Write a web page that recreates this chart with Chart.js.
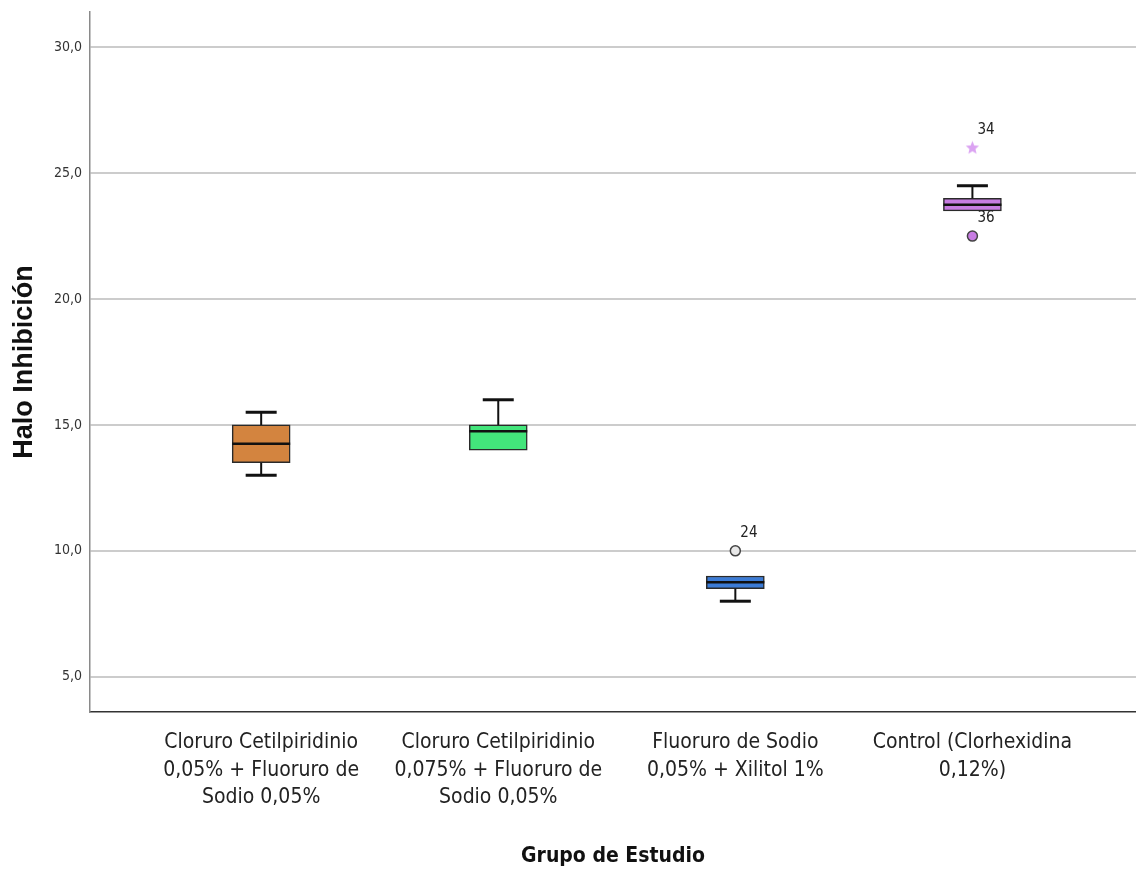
<!DOCTYPE html>
<html>
<head>
<meta charset="utf-8">
<script src="https://cdn.jsdelivr.net/npm/chart.js@4/dist/chart.umd.min.js"></script>
<style>
  html, body { margin: 0; padding: 0; background: #ffffff; }
  #wrap { width: 1136px; height: 869px; }
</style>
</head>
<body>
<div id="wrap"><canvas id="c" width="1136" height="869"></canvas></div>
<script>
// Groups on the x axis
const categories = [
  ['Cloruro Cetilpiridinio', '0,05% + Fluoruro de', 'Sodio 0,05%'],
  ['Cloruro Cetilpiridinio', '0,075% + Fluoruro de', 'Sodio 0,05%'],
  ['Fluoruro de Sodio', '0,05% + Xilitol 1%'],
  ['Control (Clorhexidina', '0,12%)']
];
// Five-number summaries per group
const whiskerLow  = [13.0, 14.0, 8.0, 23.5];
const q1          = [13.5, 14.0, 8.5, 23.5];
const median      = [14.25, 14.75, 8.75, 23.75];
const q3          = [15.0, 15.0, 9.0, 24.0];
const whiskerHigh = [15.5, 16.0, 9.0, 24.5];
const boxColors   = ['#d3843f', '#43e57b', '#3b7bd6', '#c77ce2'];

// Outlying cases: group index, value, case id, marker kind
const outlierGroup = [2, 3, 3];
const outlierValue = [10.0, 26.0, 22.5];
const outlierCase  = ['24', '34', '36'];
const outlierKind  = ['circle', 'star', 'circle'];

const yTicks = [5, 10, 15, 20, 25, 30];

const narrow = "'Liberation Sans Narrow', 'Arial Narrow', 'DejaVu Sans Condensed', sans-serif";

// Five-pointed star marker for extreme cases
function makeStar(size, fill) {
  const cv = document.createElement('canvas');
  cv.width = size; cv.height = size;
  const g = cv.getContext('2d');
  const c = size / 2, ro = size / 2 - 0.5, ri = ro * 0.45;
  g.beginPath();
  for (let k = 0; k < 10; k++) {
    const r = k % 2 === 0 ? ro : ri;
    const a = -Math.PI / 2 + k * Math.PI / 5;
    const px = c + r * Math.cos(a), py = c + r * Math.sin(a);
    if (k === 0) g.moveTo(px, py); else g.lineTo(px, py);
  }
  g.closePath();
  g.fillStyle = fill;
  g.fill();
  return cv;
}
const starMarker = makeStar(15, '#dba3f2');

// Whiskers, caps and median lines drawn over the floating boxes
const boxLines = {
  id: 'boxLines',
  afterDatasetsDraw(chart) {
    const ctx = chart.ctx, xs = chart.scales.x, ys = chart.scales.y;
    ctx.save();
    ctx.strokeStyle = '#111111';
    ctx.lineCap = 'butt';
    for (let i = 0; i < categories.length; i++) {
      const cx = xs.getPixelForValue(i + 1);
      const half = 29, cap = 15.5;
      const yLo = ys.getPixelForValue(whiskerLow[i]);
      const yQ1 = ys.getPixelForValue(q1[i]);
      const yQ3 = ys.getPixelForValue(q3[i]);
      const yHi = ys.getPixelForValue(whiskerHigh[i]);
      const yMd = ys.getPixelForValue(median[i]);
      ctx.lineWidth = 2;
      ctx.beginPath();
      if (yHi < yQ3) { ctx.moveTo(cx, yQ3); ctx.lineTo(cx, yHi); }
      if (yLo > yQ1) { ctx.moveTo(cx, yQ1); ctx.lineTo(cx, yLo); }
      ctx.stroke();
      ctx.lineWidth = 3;
      ctx.beginPath();
      if (yHi < yQ3 - 0.5) { ctx.moveTo(cx - cap, yHi); ctx.lineTo(cx + cap, yHi); }
      if (yLo > yQ1 + 0.5) { ctx.moveTo(cx - cap, yLo); ctx.lineTo(cx + cap, yLo); }
      ctx.stroke();
      ctx.lineWidth = 2.5;
      ctx.beginPath();
      ctx.moveTo(cx - half, yMd); ctx.lineTo(cx + half, yMd);
      ctx.stroke();
    }
    // case labels next to outliers
    ctx.fillStyle = '#222222';
    ctx.font = "15px " + narrow;
    ctx.textAlign = 'left';
    ctx.textBaseline = 'middle';
    for (let k = 0; k < outlierValue.length; k++) {
      const px = xs.getPixelForValue(outlierGroup[k] + 1);
      const py = ys.getPixelForValue(outlierValue[k]);
      ctx.fillText(outlierCase[k], px + 5, py - 18);
    }
    ctx.restore();
  }
};

const outlierPoints = outlierValue.map((v, k) => ({ x: outlierGroup[k] + 1, y: v }));
const outlierFill = outlierCase.map((c, k) => outlierGroup[k] === 3 ? '#c77ce2' : '#e8e8e8');

new Chart(document.getElementById('c'), {
  type: 'bar',
  data: {
    datasets: [
      {
        type: 'scatter',
        data: outlierPoints,
        pointStyle: outlierKind.map(k => k === 'star' ? starMarker : 'circle'),
        pointRadius: 5,
        pointBackgroundColor: outlierFill,
        pointBorderColor: '#444444',
        pointBorderWidth: 1.5,
        order: 0
      },
      {
        type: 'bar',
        data: q1.map((v, i) => ({ x: i + 1, y: [v, q3[i]] })),
        backgroundColor: boxColors,
        borderColor: '#2a2a2a',
        borderWidth: 1.5,
        borderSkipped: false,
        barThickness: 58,
        order: 1
      }
    ]
  },
  options: {
    responsive: false,
    maintainAspectRatio: false,
    devicePixelRatio: 1,
    animation: false,
    layout: { autoPadding: false, padding: { top: 12, left: 0, right: 0, bottom: 0 } },
    plugins: {
      legend: { display: false },
      tooltip: { enabled: false }
    },
    scales: {
      x: {
        type: 'linear',
        offset: false,
        min: 0.278,
        max: 4.69,
        afterBuildTicks: s => { s.ticks = categories.map((c, i) => ({ value: i + 1 })); },
        afterFit: s => { s.height = 157; s.paddingLeft = 0; s.paddingRight = 0; },
        ticks: {
          autoSkip: false,
          maxRotation: 0,
          padding: 17,
          color: '#222222',
          font: { family: narrow, size: 21, lineHeight: 1.31 },
          callback: v => categories[v - 1]
        },
        grid: { display: true, offset: false, color: 'rgba(0,0,0,0)', drawTicks: false },
        border: { display: true, color: '#333333', width: 1.5 },
        title: {
          display: true,
          text: 'Grupo de Estudio',
          color: '#111111',
          font: { family: narrow, size: 21, weight: 'bold' },
          padding: { top: 0, bottom: 0 }
        }
      },
      y: {
        type: 'linear',
        min: 3.6,
        max: 31.4,
        afterBuildTicks: s => { s.ticks = yTicks.map(v => ({ value: v })); },
        afterFit: s => { s.width = 90; s.paddingTop = 0; s.paddingBottom = 0; },
        ticks: {
          padding: 8,
          color: '#333333',
          font: { family: narrow, size: 14 },
          callback: v => v.toFixed(1).replace('.', ',')
        },
        grid: { color: '#cccccc', lineWidth: 2, drawTicks: false },
        border: { display: true, color: '#8a8a8a', width: 1.5 },
        title: {
          display: true,
          text: 'Halo Inhibición',
          color: '#111111',
          font: { family: "'Liberation Sans', Arial, sans-serif", size: 27, weight: 'bold' },
          padding: { top: 8, bottom: 0 }
        }
      }
    }
  },
  plugins: [boxLines]
});
</script>
</body>
</html>
